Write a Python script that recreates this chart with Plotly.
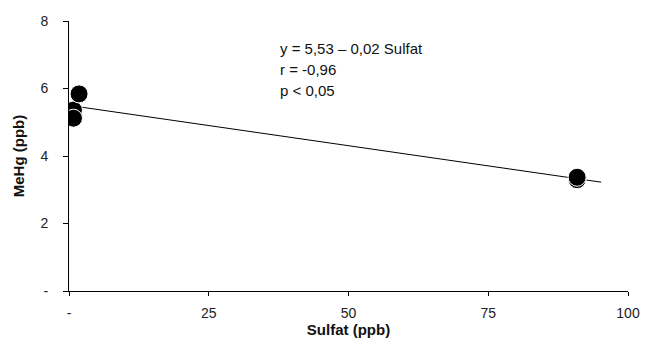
import plotly.graph_objects as go

# Data
sulfat = [0.8, 0.8, 1.8, 90.9, 90.9]
mehg = [5.36, 5.12, 5.84, 3.30, 3.37]

trend_intercept = 5.50
trend_slope = -0.0239
trend_x = [0.5, 95.2]
trend_y = [trend_intercept + trend_slope * x for x in trend_x]

x_tickvals = [0, 25, 50, 75, 100]
x_ticktext = ["-", "25", "50", "75", "100"]
y_tickvals = [0, 2, 4, 6, 8]
y_ticktext = ["-", "2", "4", "6", "8"]

eq_lines = ["y = 5,53 – 0,02 Sulfat", "r = -0,96", "p < 0,05"]
eq_y = [7.2, 6.55, 5.93]

fig = go.Figure()
fig.add_trace(go.Scatter(x=trend_x, y=trend_y, mode="lines",
                         line=dict(color="black", width=1), hoverinfo="skip"))
fig.add_trace(go.Scatter(x=sulfat, y=mehg, mode="markers",
                         marker=dict(size=18, color="black",
                                     line=dict(color="white", width=1))))

for txt, yy in zip(eq_lines, eq_y):
    fig.add_annotation(x=37.4, y=yy, xref="x", yref="y",
                       text=txt, showarrow=False,
                       xanchor="left", yanchor="middle", align="left",
                       font=dict(family="Liberation Sans, Arial", size=15, color="#111"))

fig.update_layout(
    width=656, height=345,
    margin=dict(l=69, r=28, t=21, b=54),
    paper_bgcolor="white", plot_bgcolor="white",
    showlegend=False,
    font=dict(family="Liberation Sans, Arial", size=14, color="#222"),
)
fig.update_xaxes(range=[0, 100], tickvals=x_tickvals, ticktext=x_ticktext,
                 showgrid=False, zeroline=False, showline=True,
                 linecolor="black", linewidth=1, ticks="outside", ticklen=4,
                 tickcolor="black", ticklabelstandoff=5,
                 title=dict(text="<b>Sulfat (ppb)</b>", standoff=2,
                            font=dict(size=15, color="#111")))
fig.update_yaxes(range=[0, 8], tickvals=y_tickvals, ticktext=y_ticktext,
                 showgrid=False, zeroline=False, showline=True,
                 linecolor="black", linewidth=1, ticks="outside", ticklen=5,
                 tickcolor="black", ticklabelstandoff=12,
                 title=dict(text="<b>MeHg (ppb)</b>", standoff=12,
                            font=dict(size=15, color="#111")))

fig.write_html("out.html")
